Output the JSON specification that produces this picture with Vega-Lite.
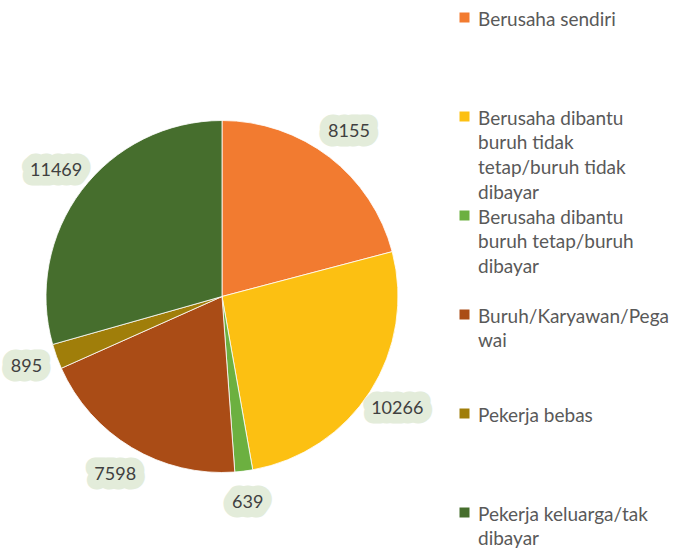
{
  "$schema": "https://vega.github.io/schema/vega-lite/v6.json",
  "width": 444,
  "height": 507,
  "autosize": "none",
  "padding": {"left": 0, "top": 43, "right": 231, "bottom": 0},
  "background": "white",
  "view": {"stroke": null},
  "config": {
    "style": {"guide-label": {"lineHeight": 24.7, "dy": -7}}
  },
  "data": {
    "values": [
      {"no": 1, "status": "Berusaha sendiri", "jumlah": 8155},
      {"no": 2, "status": "Berusaha dibantu buruh tidak tetap/buruh tidak dibayar", "jumlah": 10266},
      {"no": 3, "status": "Berusaha dibantu buruh tetap/buruh dibayar", "jumlah": 639},
      {"no": 4, "status": "Buruh/Karyawan/Pegawai", "jumlah": 7598},
      {"no": 5, "status": "Pekerja bebas", "jumlah": 895},
      {"no": 6, "status": "Pekerja keluarga/tak dibayar", "jumlah": 11469}
    ]
  },
  "encoding": {
    "theta": {"field": "jumlah", "type": "quantitative", "stack": true},
    "order": {"field": "no", "type": "quantitative"}
  },
  "layer": [
    {
      "mark": {"type": "arc", "outerRadius": 176, "stroke": "#ffffff", "strokeWidth": 0.8},
      "encoding": {
        "color": {
          "field": "status",
          "type": "nominal",
          "scale": {
            "domain": [
              "Berusaha sendiri",
              "Berusaha dibantu buruh tidak tetap/buruh tidak dibayar",
              "Berusaha dibantu buruh tetap/buruh dibayar",
              "Buruh/Karyawan/Pegawai",
              "Pekerja bebas",
              "Pekerja keluarga/tak dibayar"
            ],
            "range": ["#F27B30", "#FCC012", "#6CB040", "#AA4C16", "#A07E0A", "#466E2D"]
          },
          "legend": {
            "orient": "none",
            "legendX": 455,
            "legendY": -35,
            "title": null,
            "padding": 0,
            "symbolType": "square",
            "symbolSize": 100,
            "symbolStrokeWidth": 0,
            "labelFont": "Lato",
            "labelFontSize": 19,
            "labelColor": "#595959",
            "labelOffset": 4,
            "labelBaseline": "top",
            "labelLimit": 260,
            "rowPadding": 3,
            "labelExpr": "({'Berusaha sendiri': ['Berusaha sendiri', '', '', ''], 'Berusaha dibantu buruh tidak tetap/buruh tidak dibayar': ['Berusaha dibantu', 'buruh tidak', 'tetap/buruh tidak', 'dibayar'], 'Berusaha dibantu buruh tetap/buruh dibayar': ['Berusaha dibantu', 'buruh tetap/buruh', 'dibayar', ''], 'Buruh/Karyawan/Pegawai': ['Buruh/Karyawan/Pega', 'wai', '', ''], 'Pekerja bebas': ['Pekerja bebas', '', '', ''], 'Pekerja keluarga/tak dibayar': ['Pekerja keluarga/tak', 'dibayar', '', '']})[datum.label]"
          }
        }
      }
    },
    {
      "mark": {"type": "text", "radius": 208, "font": "Lato", "fontSize": 18, "fill": "#E3ECDA", "stroke": "#E3ECDA", "strokeWidth": 19, "strokeJoin": "round"},
      "encoding": {
        "text": {"field": "jumlah", "type": "quantitative", "format": "d"},
        "detail": {"field": "status"}
      }
    },
    {
      "mark": {"type": "text", "radius": 208, "font": "Lato", "fontSize": 18, "fill": "#404040"},
      "encoding": {
        "text": {"field": "jumlah", "type": "quantitative", "format": "d"},
        "detail": {"field": "status"}
      }
    }
  ]
}
